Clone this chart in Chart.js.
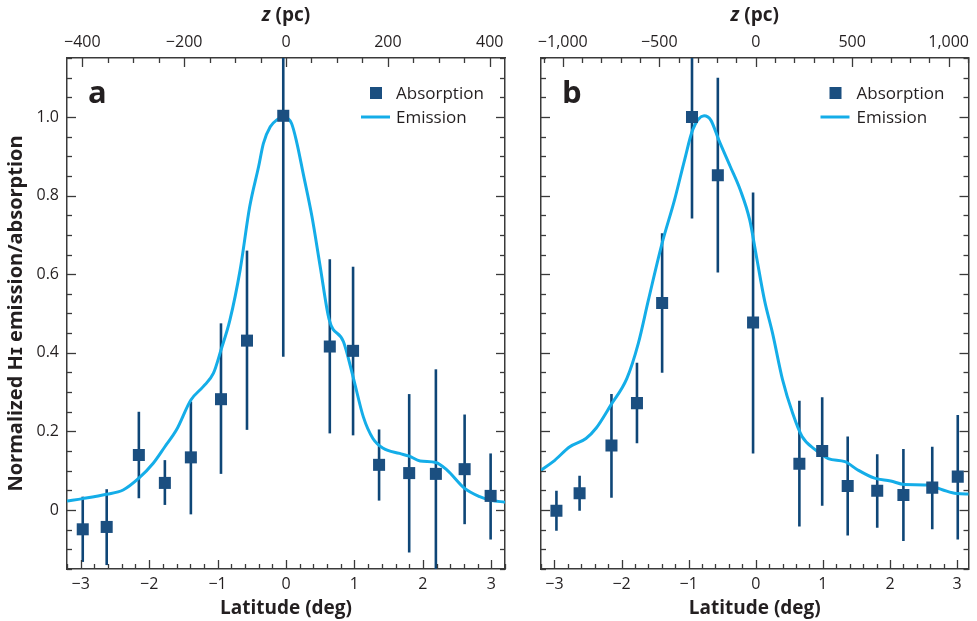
<!DOCTYPE html>
<html>
<head>
<meta charset="utf-8">
<title>HI emission/absorption vs latitude</title>
<script src="https://cdn.jsdelivr.net/npm/chart.js"></script>
<style>
  body { margin: 0; background: #fff; }
  #wrap { position: relative; width: 977px; height: 621px; overflow: hidden; }
  canvas { position: absolute; top: 0; }
  #chartA { left: 0; }
  #chartB { left: 520px; }
</style>
</head>
<body>
<div id="wrap">
  <canvas id="chartA" width="520" height="621"></canvas>
  <canvas id="chartB" width="457" height="621"></canvas>
</div>
<script>
// tick labels
const latTicks = [-3, -2, -1, 0, 1, 2, 3];
const yTicks   = [0, 0.2, 0.4, 0.6, 0.8, 1.0];
const zTicksA  = [-400, -200, 0, 200, 400];
const zTicksB  = [-1000, -500, 0, 500, 1000];

// ---- panel a ----
const latA   = [-2.97, -2.62, -2.15, -1.77, -1.39, -0.95, -0.57, -0.04, 0.64, 0.98, 1.36, 1.80, 2.19, 2.61, 2.99];
const absA   = [-0.049, -0.043, 0.140, 0.069, 0.134, 0.282, 0.431, 1.003, 0.416, 0.405, 0.115, 0.094, 0.092, 0.104, 0.036];
const lowA   = [-0.132, -0.140, 0.030, 0.013, -0.011, 0.092, 0.204, 0.390, 0.195, 0.190, 0.024, -0.108, -0.180, -0.036, -0.075];
const highA  = [0.034, 0.053, 0.250, 0.127, 0.276, 0.475, 0.660, 1.600, 0.638, 0.619, 0.205, 0.295, 0.358, 0.243, 0.144];
const emLatA = [-3.2, -2.97, -2.62, -2.38, -2.15, -1.94, -1.77, -1.60, -1.39, -1.21, -1.06, -0.95, -0.82, -0.67, -0.53, -0.40, -0.33, -0.23, -0.13, -0.04,
                0.08, 0.16, 0.25, 0.38, 0.50, 0.63, 0.84, 0.98, 1.13, 1.27, 1.42, 1.66, 1.80, 1.96, 2.19, 2.35, 2.61, 2.83, 2.99, 3.2];
const emA    = [0.023, 0.029, 0.040, 0.051, 0.081, 0.119, 0.161, 0.204, 0.280, 0.314, 0.348, 0.407, 0.483, 0.611, 0.772, 0.874, 0.933, 0.975, 0.993, 1.0,
                0.984, 0.933, 0.857, 0.746, 0.619, 0.485, 0.428, 0.339, 0.237, 0.182, 0.157, 0.144, 0.137, 0.125, 0.121, 0.102, 0.055, 0.034, 0.025, 0.020];

// ---- panel b ----
const latB   = [-2.97, -2.625, -2.15, -1.77, -1.395, -0.95, -0.565, -0.04, 0.65, 0.99, 1.37, 1.81, 2.20, 2.63, 3.01];
const absB   = [-0.002, 0.043, 0.164, 0.272, 0.527, 1.0, 0.852, 0.477, 0.118, 0.150, 0.061, 0.049, 0.038, 0.057, 0.085];
const lowB   = [-0.053, -0.002, 0.031, 0.170, 0.349, 0.742, 0.604, 0.144, -0.042, 0.011, -0.065, -0.045, -0.079, -0.049, -0.075];
const highB  = [0.049, 0.087, 0.295, 0.375, 0.704, 1.260, 1.100, 0.808, 0.278, 0.287, 0.187, 0.142, 0.155, 0.161, 0.242];
const emLatB = [-3.21, -3.02, -2.77, -2.53, -2.38, -2.16, -1.92, -1.75, -1.60, -1.395, -1.21, -1.06, -0.94, -0.77, -0.67, -0.55, -0.38, -0.23, -0.09, 0.01,
                0.13, 0.25, 0.40, 0.55, 0.69, 0.89, 1.08, 1.33, 1.52, 1.77, 2.01, 2.21, 2.55, 2.79, 2.99, 3.18];
const emB    = [0.100, 0.123, 0.161, 0.182, 0.208, 0.267, 0.335, 0.424, 0.534, 0.679, 0.789, 0.891, 0.967, 1.003, 0.992, 0.941, 0.874, 0.814, 0.738, 0.645,
                0.534, 0.450, 0.331, 0.246, 0.187, 0.153, 0.131, 0.123, 0.102, 0.081, 0.074, 0.065, 0.064, 0.051, 0.042, 0.041];

const FONT = '"Open Sans", sans-serif';
const TEXT = '#231f20';
const FRAME = '#3a3a3a';
const MARK = '#1b4f80';
const ERR = '#0e4677';
const LINE = '#14ade8';

const minus = s => String(s).replace('-', '\u2212');
const fmtLat = v => minus(v);
const fmtY = v => v === 0 ? '0' : v.toFixed(1);
const fmtZ = v => minus(Math.abs(v) >= 1000 ? v.toLocaleString('en-US') : v);
const setTicks = arr => scale => { scale.ticks = arr.map(v => ({value: v})); };

// error bars, drawn under the markers
const errorBars = {
  id: 'errorBars',
  beforeDatasetsDraw(chart, args, opts) {
    const {ctx, chartArea: a, scales: {x, y}} = chart;
    ctx.save();
    ctx.beginPath();
    ctx.rect(a.left, a.top, a.right - a.left, a.bottom - a.top);
    ctx.clip();
    ctx.strokeStyle = ERR;
    ctx.lineWidth = 2.6;
    opts.lat.forEach((lat, i) => {
      const px = x.getPixelForValue(lat);
      ctx.beginPath();
      ctx.moveTo(px, y.getPixelForValue(opts.low[i]));
      ctx.lineTo(px, y.getPixelForValue(opts.high[i]));
      ctx.stroke();
    });
    ctx.restore();
  }
};

// inward tick marks, legend, panel letter, top title
const decor = {
  id: 'decor',
  afterDraw(chart, args, opts) {
    const {ctx, chartArea: a} = chart;
    ctx.save();
    ctx.strokeStyle = FRAME;
    ctx.lineWidth = 1.3;
    Object.keys(opts.steps).forEach(id => {
      const scale = chart.scales[id];
      const [major, minor] = opts.steps[id];
      const start = Math.ceil((scale.min - 1e-9) / minor);
      for (let i = start; i * minor <= scale.max + 1e-9; i++) {
        const v = i * minor;
        const r = v / major;
        const isMajor = Math.abs(r - Math.round(r)) < 1e-6;
        const len = isMajor ? 9 : 5;
        const p = Math.round(scale.getPixelForValue(v)) + 0.5;
        ctx.beginPath();
        if (scale.position === 'left') { ctx.moveTo(a.left, p); ctx.lineTo(a.left + len, p); }
        else if (scale.position === 'right') { ctx.moveTo(a.right, p); ctx.lineTo(a.right - len, p); }
        else if (scale.position === 'top') { ctx.moveTo(p, a.top); ctx.lineTo(p, a.top + len); }
        else { ctx.moveTo(p, a.bottom); ctx.lineTo(p, a.bottom - len); }
        ctx.stroke();
      }
    });

    // legend
    const L = opts.legend;
    ctx.fillStyle = MARK;
    ctx.fillRect(a.right - L.sq - 6, a.top + 35 - 6, 12, 12);
    ctx.strokeStyle = LINE;
    ctx.lineWidth = 3;
    ctx.beginPath();
    ctx.moveTo(a.right - L.l0, a.top + 59);
    ctx.lineTo(a.right - L.l1, a.top + 59);
    ctx.stroke();
    ctx.fillStyle = TEXT;
    ctx.font = '17px ' + FONT;
    ctx.textBaseline = 'middle';
    ctx.textAlign = 'left';
    ctx.fillText('Absorption', a.right - L.text, a.top + 36);
    ctx.fillText('Emission', a.right - L.text, a.top + 60);

    // panel letter
    ctx.font = 'bold 31px ' + FONT;
    ctx.textBaseline = 'alphabetic';
    ctx.fillText(opts.letter, a.left + 21, a.top + 45);

    // top axis title with italic z
    const cx = (a.left + a.right) / 2;
    ctx.font = 'italic bold 19px ' + FONT;
    const wz = ctx.measureText('z').width;
    ctx.font = 'bold 19px ' + FONT;
    const wr = ctx.measureText(' (pc)').width;
    const x0 = cx - (wz + wr) / 2;
    ctx.textBaseline = 'middle';
    ctx.font = 'italic bold 19px ' + FONT;
    ctx.fillText('z', x0, 16);
    ctx.font = 'bold 19px ' + FONT;
    ctx.fillText(' (pc)', x0 + wz, 16);
    ctx.restore();
  }
};

function fixSize(size) {
  return scale => {
    if (scale.isHorizontal()) scale.height = size; else scale.width = size;
    scale.paddingLeft = scale.paddingRight = scale.paddingTop = scale.paddingBottom = 0;
  };
}

function makeChart(id, p) {
  const tickFont = {family: FONT, size: 16};
  return new Chart(document.getElementById(id), {
    type: 'line',
    data: {
      datasets: [
        {
          label: 'Absorption',
          data: p.lat.map((x, i) => ({x, y: p.abs[i]})),
          showLine: false,
          pointStyle: 'rect',
          pointRadius: 8.5,
          pointBackgroundColor: MARK,
          pointBorderColor: MARK,
          pointBorderWidth: 0,
          order: 0
        },
        {
          label: 'Emission',
          data: p.emLat.map((x, i) => ({x, y: p.em[i]})),
          borderColor: LINE,
          borderWidth: 3,
          pointRadius: 0,
          cubicInterpolationMode: 'monotone',
          fill: false,
          order: 1
        }
      ]
    },
    options: {
      responsive: false,
      animation: false,
      layout: {padding: 0},
      plugins: {
        legend: {display: false},
        tooltip: {enabled: false},
        errorBars: {lat: p.lat, low: p.low, high: p.high},
        decor: {
          steps: {x: [1, 0.2], x2: p.zSteps, y: [0.2, 0.05], y2: [0.2, 0.05]},
          legend: p.legend,
          letter: p.letter
        }
      },
      scales: {
        x: {
          type: 'linear', position: 'bottom', min: p.xMin, max: p.xMax,
          afterFit: fixSize(52),
          afterBuildTicks: setTicks(latTicks),
          grid: {display: false, drawTicks: false},
          border: {display: true, color: FRAME, width: 1.5},
          ticks: {padding: 6, color: TEXT, font: tickFont, callback: fmtLat, maxRotation: 0, autoSkip: false},
          title: {display: true, text: 'Latitude (deg)', color: TEXT, font: {family: FONT, size: 19, weight: 'bold'}, padding: {top: 0, bottom: 1}}
        },
        x2: {
          type: 'linear', axis: 'x', position: 'top', min: p.zMin, max: p.zMax,
          afterFit: fixSize(58),
          afterBuildTicks: setTicks(p.zTicks),
          grid: {display: false, drawTicks: false},
          border: {display: true, color: FRAME, width: 1.5},
          ticks: {padding: 6, color: TEXT, font: tickFont, callback: fmtZ, maxRotation: 0, autoSkip: false}
        },
        y: {
          type: 'linear', position: 'left', min: -0.15, max: 1.15,
          afterFit: fixSize(p.leftW),
          afterBuildTicks: setTicks(yTicks),
          grid: {display: false, drawTicks: false},
          border: {display: true, color: FRAME, width: 1.5},
          ticks: {display: p.yLabels, padding: 8, color: TEXT, font: tickFont, callback: fmtY},
          title: {display: p.yLabels, text: 'Normalized H\u026A emission/absorption', color: TEXT, font: {family: FONT, size: 20, weight: 'bold'}, padding: {top: 4, bottom: 0}}
        },
        y2: {
          type: 'linear', axis: 'y', position: 'right', min: -0.15, max: 1.15,
          afterFit: fixSize(p.rightW),
          afterBuildTicks: setTicks(yTicks),
          grid: {display: false, drawTicks: false},
          border: {display: true, color: FRAME, width: 1.5},
          ticks: {display: false}
        }
      }
    },
    plugins: [errorBars, decor]
  });
}

makeChart('chartA', {
  lat: latA, abs: absA, low: lowA, high: highA, emLat: emLatA, em: emA,
  xMin: -3.2, xMax: 3.2, zMin: -430, zMax: 430, zSteps: [200, 50], zTicks: zTicksA,
  leftW: 67, rightW: 15, yLabels: true, letter: 'a',
  legend: {sq: 129, text: 109, l0: 144, l1: 115}
});

makeChart('chartB', {
  lat: latB, abs: absB, low: lowB, high: highB, emLat: emLatB, em: emB,
  xMin: -3.2, xMax: 3.17, zMin: -1113, zMax: 1103, zSteps: [500, 100], zTicks: zTicksB,
  leftW: 21, rightW: 1, yLabels: false, letter: 'b',
  legend: {sq: 133, text: 112, l0: 148, l1: 119}
});
</script>
</body>
</html>
